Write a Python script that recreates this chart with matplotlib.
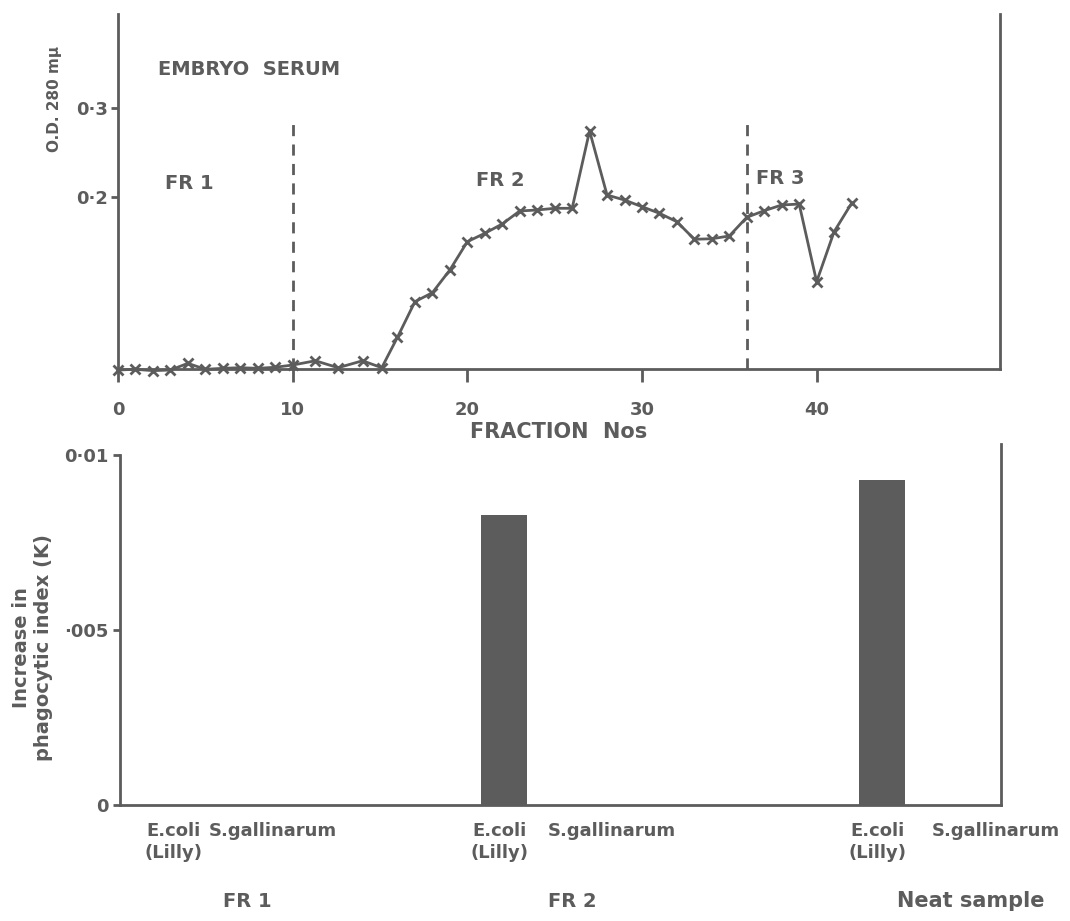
import matplotlib.pyplot as plt

# ---- data ----
fraction = [0, 1, 2, 3, 4, 5, 6, 7, 8, 9, 10, 11.3, 12.6, 14, 15.1,
            16, 17, 18, 19, 20, 21, 22, 23, 24, 25, 26, 27, 28, 29, 30,
            31, 32, 33, 34, 35, 36, 37, 38, 39, 40, 41, 42]
od280 = [0.0056, 0.0064, 0.0049, 0.0056, 0.0131, 0.0064, 0.0075, 0.0082,
         0.0075, 0.0087, 0.0112, 0.016, 0.0082, 0.016, 0.0082,
         0.0424, 0.0824, 0.0925, 0.118, 0.1498, 0.1592, 0.1697, 0.1843,
         0.1854, 0.1873, 0.1873, 0.2742, 0.2022, 0.1966, 0.1891, 0.1817,
         0.1722, 0.1525, 0.1531, 0.1562, 0.1772, 0.1846, 0.191, 0.1921,
         0.1048, 0.161, 0.1929]
fr_borders = [10, 36]

groups = ['FR 1', 'FR 2', 'Neat sample']
ecoli_k = [0.0, 0.0083, 0.0093]
sgall_k = [0.0, 0.0, 0.0]

# ---- layout ----
ink = '#5c5c5c'
plt.rcParams['font.family'] = ['DejaVu Sans']
plt.rcParams['font.weight'] = 'bold'
plt.rcParams['text.color'] = ink
plt.rcParams['axes.edgecolor'] = ink
plt.rcParams['xtick.color'] = ink
plt.rcParams['ytick.color'] = ink
plt.rcParams['axes.labelcolor'] = ink

fig = plt.figure(figsize=(10.7, 9.21), dpi=100)
ax1 = fig.add_axes([0.1103, 0.5993, 0.8243, 0.3855])
ax2 = fig.add_axes([0.1121, 0.1259, 0.8234, 0.3920])

# top panel: O.D. profile
ax1.plot(fraction, od280, color=ink, lw=2, marker='x', ms=7, mew=2,
         clip_on=False, zorder=3)
for xb in fr_borders:
    ax1.plot([xb, xb], [0.0067, 0.282], color=ink, lw=2, ls=(0, (4, 3)))
ax1.set_xlim(0, 50.5)
ax1.set_ylim(0.0067, 0.4056)
ax1.set_xticks([0, 10, 20, 30, 40])
ax1.set_yticks([0.2, 0.3])
ax1.set_yticklabels(['0·2', '0·3'])
ax1.tick_params(axis='x', length=9, width=2, labelsize=13, pad=14)
ax1.tick_params(axis='y', length=5, width=2, labelsize=13, pad=2)
ax1.spines['top'].set_visible(False)
for s in ['left', 'bottom', 'right']:
    ax1.spines[s].set_linewidth(2)
ax1.text(0.5, -0.177, 'FRACTION  Nos', fontsize=15, ha='center', va='center',
         transform=ax1.transAxes)
ax1.text(-0.072, 0.76, 'O.D. 280 mμ', fontsize=11, rotation=90,
         ha='center', va='center', transform=ax1.transAxes)
ax1.text(2.3, 0.3427, 'EMBRYO  SERUM', fontsize=14, va='center')
ax1.text(2.7, 0.2157, 'FR 1', fontsize=14, va='center')
ax1.text(20.5, 0.218, 'FR 2', fontsize=14, va='center')
ax1.text(36.5, 0.2213, 'FR 3', fontsize=14, va='center')

# bottom panel: phagocytic index bars
ecoli_x = [0.66, 4.36, 8.65]
sgall_x = [1.73, 5.58, 9.94]
group_x = [1.44, 5.14, 9.66]
ax2.bar(ecoli_x, ecoli_k, width=0.52, color=ink)
ax2.bar(sgall_x, sgall_k, width=0.52, color=ink)
ax2.set_xlim(0, 10)
ax2.set_ylim(0, 0.010314)
ax2.set_xticks([])
ax2.set_yticks([0, 0.005, 0.01])
ax2.set_yticklabels(['0', '·005', '0·01'])
ax2.tick_params(axis='y', length=5, width=2, labelsize=13, pad=3)
ax2.spines['top'].set_visible(False)
ax2.spines['left'].set_bounds(0, 0.01)
for s in ['left', 'bottom', 'right']:
    ax2.spines[s].set_linewidth(2)

for i, g in enumerate(groups):
    ax2.text(ecoli_x[i] - 0.05, -0.00075, 'E.coli', fontsize=13, ha='center', va='center')
    ax2.text(ecoli_x[i] - 0.05, -0.00138, '(Lilly)', fontsize=13, ha='center', va='center')
    ax2.text(sgall_x[i], -0.00075, 'S.gallinarum', fontsize=13, ha='center', va='center')
    ax2.text(group_x[i], -0.00275, g, fontsize=15 if i == 2 else 14,
             ha='center', va='center')

fig.text(33 / 1070, 1 - 648 / 921, 'Increase in\nphagocytic index (K)', fontsize=14,
         rotation=90, ha='center', va='center', multialignment='center')

fig.savefig('out.png', dpi=100)
